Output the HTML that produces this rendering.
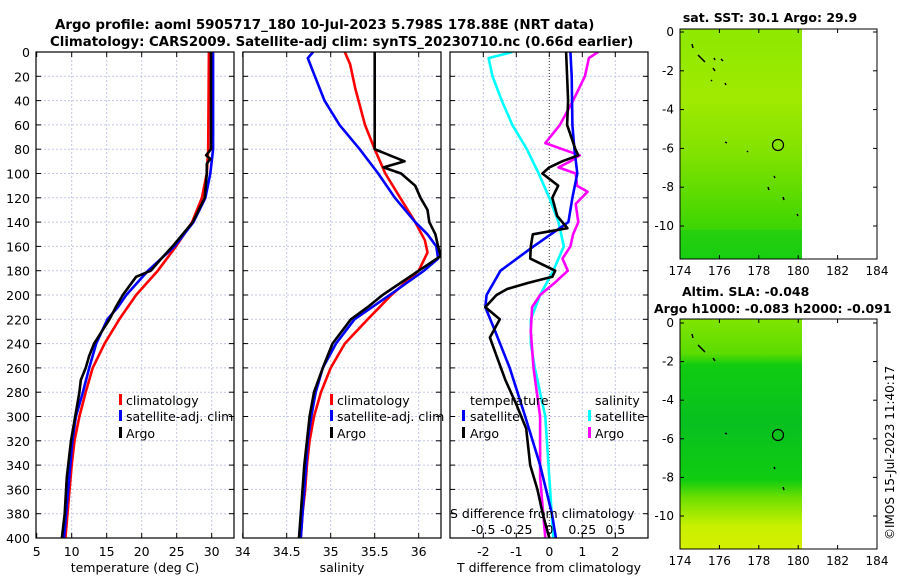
<!DOCTYPE html>
<html><head><meta charset="utf-8">
<style>
html,body{margin:0;padding:0;background:#fff;}
svg{display:block;font-family:"DejaVu Sans","Liberation Sans",sans-serif;}
</style></head>
<body>
<svg id="chart" width="900" height="580" viewBox="0 0 900 580" xmlns="http://www.w3.org/2000/svg">
<defs>
<linearGradient id="sstGrad" x1="0" y1="0" x2="0" y2="1">
<stop offset="0" stop-color="#8de800"/><stop offset="0.3" stop-color="#a0ea00"/><stop offset="0.55" stop-color="#80e200"/><stop offset="0.8" stop-color="#4cd800"/><stop offset="1" stop-color="#1cd010"/>
</linearGradient>
<linearGradient id="slaGrad" x1="0" y1="0" x2="0" y2="1">
<stop offset="0" stop-color="#80e400"/><stop offset="0.15" stop-color="#5cdc00"/><stop offset="0.2" stop-color="#10cc10"/><stop offset="0.45" stop-color="#08c020"/><stop offset="0.7" stop-color="#10cc10"/><stop offset="0.78" stop-color="#70e000"/><stop offset="0.9" stop-color="#c8f000"/><stop offset="1" stop-color="#d4f000"/>
</linearGradient>
</defs>
<text x="55" y="29" font-size="13.4" font-weight="bold">Argo profile: aoml 5905717_180 10-Jul-2023 5.798S 178.88E (NRT data)</text>
<text x="50" y="46" font-size="13.3" font-weight="bold">Climatology: CARS2009. Satellite-adj clim: synTS_20230710.nc (0.66d earlier)</text>
<g id="grid"></g>
<g id="marks"></g>
<g id="axes"></g>

<g font-size="12.5">
<rect x="119" y="394" width="3" height="11" fill="#f00"/><text x="126" y="405">climatology</text>
<rect x="119" y="410" width="3" height="11" fill="#00f"/><text x="126" y="421">satellite-adj. clim</text>
<rect x="119" y="427" width="3" height="11" fill="#000"/><text x="126" y="438">Argo</text>
</g>
<g font-size="12.5">
<rect x="330" y="394" width="3" height="11" fill="#f00"/><text x="337" y="405">climatology</text>
<rect x="330" y="410" width="3" height="11" fill="#00f"/><text x="337" y="421">satellite-adj. clim</text>
<rect x="330" y="427" width="3" height="11" fill="#000"/><text x="337" y="438">Argo</text>
</g>
<g font-size="12.5">
<text x="470" y="405">temperature</text>
<rect x="462" y="410" width="3" height="11" fill="#00f"/><text x="470" y="421">satellite</text>
<rect x="462" y="427" width="3" height="11" fill="#000"/><text x="470" y="438">Argo</text>
<text x="595" y="405">salinity</text>
<rect x="588" y="410" width="3" height="11" fill="#0ff"/><text x="595" y="421">satellite</text>
<rect x="588" y="427" width="3" height="11" fill="#f0f"/><text x="595" y="438">Argo</text>
</g>
<text x="450" y="518" font-size="12.5">S difference from climatology</text>

<text x="770" y="22" font-size="12.5" font-weight="bold" text-anchor="middle">sat. SST: 30.1 Argo: 29.9</text>
<g>
<rect x="680" y="29" width="122" height="230" fill="url(#sstGrad)"/>
<rect x="680" y="230" width="122" height="29" fill="#14cc14" opacity="0.5"/>
<circle cx="778" cy="145" r="5.5" fill="none" stroke="#000" stroke-width="1.2"/>
<g stroke="#000" stroke-width="1.5"><line x1="692" y1="44" x2="693" y2="48"/><line x1="698" y1="55" x2="705" y2="62"/><line x1="714" y1="58" x2="715" y2="60"/><line x1="721" y1="59" x2="723" y2="61"/><line x1="713" y1="68" x2="715" y2="71"/><line x1="711" y1="80" x2="712" y2="81"/><line x1="725" y1="83" x2="726" y2="85"/><line x1="725" y1="142" x2="727" y2="143"/><line x1="747" y1="151" x2="748" y2="152"/><line x1="774" y1="176" x2="775" y2="178"/><line x1="768" y1="187" x2="769" y2="190"/><line x1="783" y1="197" x2="784" y2="200"/><line x1="797" y1="214" x2="798" y2="216"/></g>
<rect x="680" y="29" width="197" height="230" fill="none" stroke="#000" stroke-width="1"/>
</g>
<g id="map1axes" font-size="12"></g>
<text x="682" y="296" font-size="12.5" font-weight="bold">Altim. SLA: -0.048</text>
<text x="654" y="313" font-size="12.5" font-weight="bold">Argo h1000: -0.083 h2000: -0.091</text>
<g>
<rect x="680" y="319" width="122" height="230" fill="url(#slaGrad)"/>
<circle cx="778" cy="435" r="5.5" fill="none" stroke="#000" stroke-width="1.2"/>
<g stroke="#000" stroke-width="1.5"><line x1="692" y1="334" x2="693" y2="338"/><line x1="698" y1="345" x2="705" y2="352"/><line x1="713" y1="358" x2="715" y2="361"/><line x1="725" y1="433" x2="727" y2="434"/><line x1="774" y1="467" x2="775" y2="469"/><line x1="783" y1="487" x2="784" y2="490"/></g>
<rect x="680" y="319" width="197" height="230" fill="none" stroke="#000" stroke-width="1"/>
</g>
<g id="map2axes" font-size="12"></g>
<text transform="translate(894,540) rotate(-90)" font-size="12">©IMOS 15-Jul-2023 11:40:17</text>
</svg>
<script>
// ---------- data ----------
const depthTicks = [0,20,40,60,80,100,120,140,160,180,200,220,240,260,280,300,320,340,360,380,400];
const tempTicks = [5,10,15,20,25,30];
const salTicks = [34,34.5,35,35.5,36];
const tdiffTicks = [-2,-1,0,1,2];
const sdiffTicks = [-0.5,-0.25,0,0.25,0.5];

const tClimDepth = [0,80,100,120,140,160,180,200,220,240,260,280,300,320,340,360,380,400];
const tClimVal   = [29.6,29.5,29.3,28.6,27.2,24.9,22.3,19.2,16.8,14.7,13.0,12.0,11.1,10.4,10.0,9.7,9.4,9.1];
const tSatDepth = [0,80,90,100,120,140,160,180,200,210,220,240,260,280,300,320,340,360,380,400];
const tSatVal   = [30.2,30.2,30.0,29.8,29.1,27.4,24.7,20.9,17.8,16.6,15.1,13.5,12.5,11.6,10.6,10.1,9.8,9.5,9.2,8.9];
const tArgoDepth = [0,80,85,88,92,100,120,140,160,170,180,185,200,210,220,240,250,260,270,280,300,320,350,380,400];
const tArgoVal   = [29.9,29.9,29.2,29.8,29.3,29.3,29.0,27.3,24.4,22.8,21.3,19.2,17.3,16.3,15.4,13.2,12.5,12.0,11.3,11.1,10.5,9.9,9.3,9.0,8.6];

const sClimDepth = [0,10,30,60,80,100,120,140,155,165,180,200,220,240,260,280,300,320,340,360,380,400];
const sClimVal   = [35.16,35.22,35.28,35.39,35.5,35.62,35.79,35.96,36.07,36.1,36.0,35.69,35.42,35.16,35.0,34.89,34.81,34.76,34.73,34.71,34.68,34.66];
const sSatDepth = [0,5,20,40,60,80,100,120,140,150,160,170,180,200,220,240,260,280,300,320,340,360,380,400];
const sSatVal   = [34.8,34.74,34.82,34.93,35.1,35.33,35.54,35.73,35.96,36.1,36.2,36.22,36.06,35.67,35.27,35.06,34.91,34.83,34.78,34.74,34.72,34.7,34.68,34.66];
const sArgoDepth = [0,80,85,90,95,100,110,120,130,140,150,160,168,180,200,210,220,240,260,280,300,340,400];
const sArgoVal   = [35.5,35.5,35.67,35.84,35.6,35.8,35.96,36.02,36.1,36.12,36.19,36.22,36.25,36.0,35.59,35.42,35.23,35.02,34.91,34.81,34.76,34.7,34.64];

const dSsatDepth = [0,5,20,40,60,80,100,120,140,160,180,200,220,240,260,300,350,400];
const dSsatVal   = [-0.28,-0.46,-0.43,-0.36,-0.28,-0.17,-0.08,0.0,0.07,0.11,0.03,-0.07,-0.14,-0.14,-0.11,-0.03,0.0,0.03];
const dSargoDepth = [0,5,20,40,60,75,85,90,95,100,110,115,125,140,150,160,170,180,190,200,210,230,260,300,350,400];
const dSargoVal   = [0.37,0.3,0.27,0.18,0.08,-0.03,0.23,0.16,0.07,0.2,0.21,0.29,0.2,0.22,0.18,0.16,0.1,0.14,0.04,-0.07,-0.13,-0.14,-0.12,-0.07,-0.07,-0.03];
const dTsatDepth = [0,20,60,80,100,120,140,160,180,200,210,230,260,300,340,380,400];
const dTsatVal   = [0.64,0.68,0.7,0.76,0.85,0.7,0.58,-0.48,-1.48,-1.9,-1.94,-1.64,-1.2,-0.73,-0.28,0.08,0.2];
const dTargoDepth = [0,40,60,80,85,90,95,100,110,120,135,145,150,160,170,180,185,190,195,200,210,220,235,250,270,290,310,340,360,380,400];
const dTargoVal   = [0.51,0.57,0.54,0.79,0.88,0.39,0.0,-0.21,0.27,0.09,0.24,0.55,-0.5,-0.56,-0.58,0.18,0.09,-0.64,-1.27,-1.6,-1.94,-1.5,-1.8,-1.6,-1.33,-1.0,-0.7,-0.58,-0.36,-0.2,0.0];

const lonTicks = [174,176,178,180,182,184];
const latTicks = [0,-2,-4,-6,-8,-10];

// ---------- scales ----------
const Y0 = 52, Y1 = 538;
const yD = d => Y0 + d*(Y1-Y0)/400;
const xT = v => 36.7 + (v-5)*7;
const xS = v => 242.7 + (v-34)*88;
const xDT = v => 549.3 + v*33;
const xDS = v => 549.3 + v*132;
const panels = [{x0:36,x1:234},{x0:243,x1:441},{x0:450,x1:648}];

const NS = 'http://www.w3.org/2000/svg';
function mk(tag, parent, attrs){const e=document.createElementNS(NS,tag);for(const k in attrs)e.setAttribute(k,attrs[k]);parent.appendChild(e);return e;}
const grid = document.getElementById('grid');
const marks = document.getElementById('marks');
const axes = document.getElementById('axes');

panels.forEach(p=>{
  depthTicks.forEach(d=>{
    const l=mk('line',grid,{x1:p.x0,x2:p.x1,y1:yD(d),y2:yD(d),stroke:'#c4c8e8','stroke-width':1,'stroke-dasharray':'2,2'});
    
    
  });
});
function vgrid(ticks, sx){ticks.forEach(v=>{const l=mk('line',grid,{x1:sx(v),x2:sx(v),y1:Y0,y2:Y1,stroke:'#c4c8e8','stroke-width':1,'stroke-dasharray':'2,2'});

});}
vgrid(tempTicks.slice(1), xT); vgrid(salTicks.slice(1), xS); vgrid(tdiffTicks.filter(v=>v!==0), xDT);
const zl = mk('line',grid,{x1:xDT(0),x2:xDT(0),y1:Y0,y2:Y1,stroke:'#333','stroke-width':1,'stroke-dasharray':'1,2'});



function line(depths, vals, sx, color, name, w){
  const d = depths.map((z,i)=>(i?'L':'M')+sx(vals[i]).toFixed(1)+','+yD(z).toFixed(1)).join('');
  const p = mk('path',marks,{d:d,fill:'none',stroke:color,'stroke-width':w||2.6,'stroke-linejoin':'round'});
  
  
}
line(tClimDepth,tClimVal,xT,'#f00','temp-climatology-line');
line(tSatDepth,tSatVal,xT,'#00f','temp-satellite-line');
line(tArgoDepth,tArgoVal,xT,'#000','temp-argo-line');
line(sClimDepth,sClimVal,xS,'#f00','sal-climatology-line');
line(sSatDepth,sSatVal,xS,'#00f','sal-satellite-line');
line(sArgoDepth,sArgoVal,xS,'#000','sal-argo-line');
line(dSsatDepth,dSsatVal,xDS,'#0ff','sdiff-satellite-line');
line(dSargoDepth,dSargoVal,xDS,'#f0f','sdiff-argo-line');
line(dTsatDepth,dTsatVal,xDT,'#00f','tdiff-satellite-line');
line(dTargoDepth,dTargoVal,xDT,'#000','tdiff-argo-line');

const cp = mk('clipPath', document.querySelector('defs'), {id:'pc'});
panels.forEach(p=>mk('rect',cp,{x:p.x0,y:Y0,width:p.x1-p.x0,height:Y1-Y0}));
marks.setAttribute('clip-path','url(#pc)');

panels.forEach((p,i)=>{
  const r=mk('rect',axes,{x:p.x0,y:Y0,width:p.x1-p.x0,height:Y1-Y0,fill:'none',stroke:'#000','stroke-width':1.2});
  
  
  depthTicks.forEach(d=>{
    mk('line',axes,{x1:p.x0,x2:p.x0+5,y1:yD(d),y2:yD(d),stroke:'#000'});
    mk('line',axes,{x1:p.x1-5,x2:p.x1,y1:yD(d),y2:yD(d),stroke:'#000'});
  });
});
depthTicks.forEach(d=>{
  const t=mk('text',axes,{x:30,y:yD(d)+5,'font-size':12.5,'text-anchor':'end'});
  t.textContent=d;
  
  
});
function xticks(ticks, sx, labelY){
  ticks.forEach(v=>{
    const x=sx(v);
    mk('line',axes,{x1:x,x2:x,y1:Y1-5,y2:Y1,stroke:'#000'});
    mk('line',axes,{x1:x,x2:x,y1:Y0,y2:Y0+5,stroke:'#000'});
    const t=mk('text',axes,{x:x,y:labelY,'font-size':12.5,'text-anchor':'middle'});
    t.textContent=v;
    
    
  });
}
xticks(tempTicks, xT, 556);
xticks(salTicks, xS, 556);
xticks(tdiffTicks, xDT, 556);
sdiffTicks.forEach(v=>{
  const t=mk('text',axes,{x:xDS(v),y:534,'font-size':12.5,'text-anchor':'middle'});
  t.textContent=v;
  
  
});
[['temperature (deg C)',135,'temp-axis-title'],['salinity',342,'salinity-axis-title'],['T difference from climatology',549,'t-diff-axis-title']].forEach(a=>{
  const t=mk('text',axes,{x:a[1],y:572,'font-size':12.5,'text-anchor':'middle'});
  t.textContent=a[0];
  
  
});

function mapAxes(gid, yTop, y0px, pxPerDeg, yBot){
  const g=document.getElementById(gid);
  const xL = v => 680 + (v-174)*19.7;
  lonTicks.forEach(v=>{
    mk('line',g,{x1:xL(v),x2:xL(v),y1:yBot-4,y2:yBot,stroke:'#000'});
    mk('line',g,{x1:xL(v),x2:xL(v),y1:yTop,y2:yTop+4,stroke:'#000'});
    const t=mk('text',g,{x:xL(v),y:yBot+16,'text-anchor':'middle'});
    t.textContent=v;
    
    
  });
  latTicks.forEach(v=>{
    const y=y0px - v*pxPerDeg;
    mk('line',g,{x1:680,x2:684,y1:y,y2:y,stroke:'#000'});
    mk('line',g,{x1:873,x2:877,y1:y,y2:y,stroke:'#000'});
    const t=mk('text',g,{x:674,y:y+4,'text-anchor':'end'});
    t.textContent=v;
    
    
  });
}
mapAxes('map1axes',29,32,19.4,259);
mapAxes('map2axes',319,323,19.3,549);
</script>
</body></html>
